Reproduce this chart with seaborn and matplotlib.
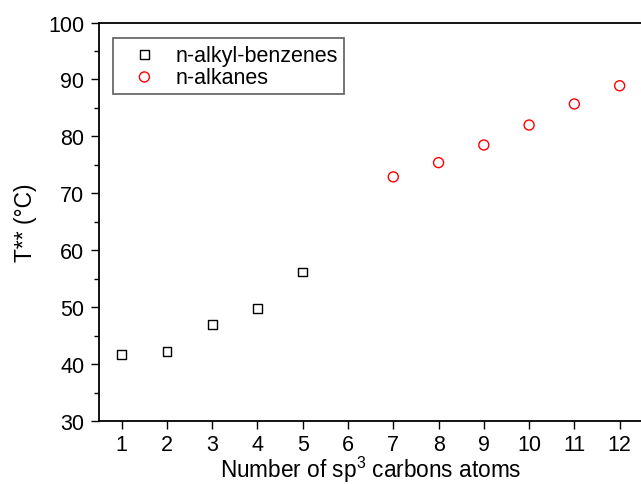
import pandas as pd
import seaborn as sns
import matplotlib
import matplotlib.pyplot as plt
from matplotlib.ticker import MultipleLocator

sns.set_style("ticks")
plt.rcParams['font.family'] = ['Liberation Sans', 'DejaVu Sans']
plt.rcParams['mathtext.fontset'] = 'custom'
plt.rcParams['mathtext.rm'] = 'Liberation Sans'
plt.rcParams['mathtext.it'] = 'Liberation Sans'
for k in ['text.color', 'axes.labelcolor', 'xtick.color', 'ytick.color', 'axes.edgecolor']:
    plt.rcParams[k] = 'black'

#%%
# data
benz_n = [1, 2, 3, 4, 5]
benz_t = [41.7, 42.2, 47.0, 49.8, 56.2]
alk_n = [7, 8, 9, 10, 11, 12]
alk_t = [72.9, 75.4, 78.5, 82.0, 85.7, 88.9]

df_benz = pd.DataFrame({'n': benz_n, 'T': benz_t})
df_alk = pd.DataFrame({'n': alk_n, 'T': alk_t})

#%%
fig = plt.figure(figsize=(6.41, 4.85), dpi=100)
ax = fig.add_axes([0.1545, 0.1295, 0.8475, 0.822])

sns.scatterplot(data=df_benz, x='n', y='T', marker='s', s=40, facecolor='none',
                edgecolor='black', linewidth=1, label='n-alkyl-benzenes', ax=ax)
sns.scatterplot(data=df_alk, x='n', y='T', marker='o', s=52, facecolor='none',
                edgecolor='red', linewidth=1, label='n-alkanes', ax=ax)

ax.set_xlim(0.5, 12.5)
ax.set_ylim(30, 100)
ax.set_xticks(range(1, 13))
ax.yaxis.set_major_locator(MultipleLocator(10))
ax.yaxis.set_minor_locator(MultipleLocator(5))
ax.tick_params(axis='both', which='major', labelsize=15.5, length=6, width=1,
               direction='out', pad=4.5)
ax.tick_params(axis='x', which='major', pad=3.5)
ax.tick_params(axis='y', which='minor', length=3.5, width=1, direction='out')
ax.spines['right'].set_visible(False)
for s in ax.spines.values():
    s.set_linewidth(1.3)

ax.set_xlabel('Number of sp$^3$ carbons atoms', fontsize=16.3, labelpad=-1)
ax.set_ylabel('T** (°C)', fontsize=16.5, labelpad=8)

leg = ax.legend(loc='upper left', fontsize=15.5, frameon=True, fancybox=False,
                edgecolor='#444444', bbox_to_anchor=(0.026, 0.961), borderaxespad=0,
                borderpad=0.3, handlelength=2.3, handletextpad=0.3,
                labelspacing=0.05, markerscale=1.0)
leg.get_frame().set_linewidth(1.3)

plt.savefig('out.png', dpi=100)
